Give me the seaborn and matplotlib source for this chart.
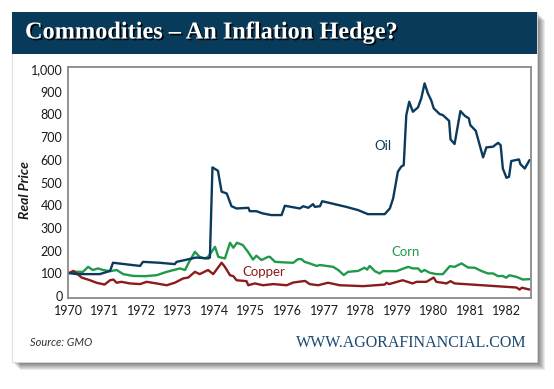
import numpy as np
import pandas as pd
import matplotlib
matplotlib.use('Agg')
import matplotlib.pyplot as plt
import matplotlib.patheffects as pe
from matplotlib.patches import Rectangle
import seaborn as sns

# values (year, real price index)
oil_years = [1970.0, 1970.24, 1970.87, 1971.15, 1971.23, 1971.6, 1971.97, 1972.05, 1972.5, 1972.92,
             1972.97, 1973.2, 1973.5, 1973.83, 1973.88, 1973.95, 1974.1, 1974.2, 1974.34, 1974.47,
             1974.61, 1974.93, 1974.97, 1975.15, 1975.33, 1975.56, 1975.84, 1975.93, 1976.34, 1976.43,
             1976.57, 1976.7, 1976.75, 1976.89, 1976.95, 1977.61, 1977.93, 1978.2, 1978.66, 1978.8,
             1978.89, 1979.02, 1979.11, 1979.18, 1979.25, 1979.33, 1979.43, 1979.57, 1979.66, 1979.75,
             1979.84, 1979.93, 1980.0, 1980.16, 1980.25, 1980.42, 1980.46, 1980.57, 1980.73, 1980.85,
             1980.96, 1981.0, 1981.15, 1981.35, 1981.44, 1981.62, 1981.76, 1981.83, 1981.89, 1981.99,
             1982.06, 1982.12, 1982.33, 1982.37, 1982.49, 1982.62]
oil_vals = [102, 97, 97, 111, 147, 140, 133, 151, 147, 141,
            151, 159, 170, 166, 170, 567, 552, 460, 452, 396,
            386, 389, 374, 374, 364, 357, 357, 398, 386, 396,
            389, 405, 393, 396, 418, 393, 379, 361, 361, 386,
            430, 548, 570, 577, 797, 856, 812, 831, 871, 937,
            893, 863, 827, 802, 797, 772, 690, 670, 815, 794,
            783, 753, 728, 611, 655, 658, 675, 665, 562, 521,
            526, 595, 602, 581, 562, 599]

corn_years = [1970.0, 1970.18, 1970.41, 1970.55, 1970.68, 1970.82, 1970.96, 1971.15, 1971.33, 1971.51,
              1971.78, 1972.1, 1972.42, 1972.7, 1973.06, 1973.2, 1973.29, 1973.47, 1973.6, 1973.74,
              1973.83, 1974.02, 1974.11, 1974.29, 1974.43, 1974.52, 1974.62, 1974.78, 1974.92, 1975.06,
              1975.15, 1975.29, 1975.47, 1975.52, 1975.66, 1975.98, 1976.16, 1976.29, 1976.38, 1976.47,
              1976.61, 1976.8, 1976.89, 1977.25, 1977.39, 1977.54, 1977.66, 1977.93, 1978.11, 1978.18,
              1978.25, 1978.39, 1978.52, 1978.61, 1978.98, 1979.3, 1979.43, 1979.57, 1979.66, 1979.75,
              1979.89, 1980.07, 1980.25, 1980.44, 1980.57, 1980.76, 1980.94, 1981.12, 1981.3, 1981.48,
              1981.62, 1981.76, 1981.89, 1981.98, 1982.07, 1982.26, 1982.44, 1982.62]
corn_vals = [100, 107, 107, 129, 115, 122, 115, 110, 115, 97,
             89, 88, 92, 107, 122, 115, 144, 195, 173, 166,
             173, 217, 173, 166, 235, 213, 235, 225, 195, 161,
             178, 159, 173, 173, 151, 148, 147, 163, 163, 151,
             144, 133, 137, 129, 115, 93, 107, 111, 125, 117,
             133, 110, 100, 110, 110, 129, 122, 122, 107, 115,
             103, 97, 97, 132, 129, 144, 126, 125, 111, 100,
             100, 88, 89, 81, 92, 85, 73, 75]

copper_years = [1970.0, 1970.15, 1970.24, 1970.37, 1970.6, 1970.78, 1971.0, 1971.15, 1971.24, 1971.33,
                1971.46, 1971.69, 1971.97, 1972.15, 1972.42, 1972.7, 1972.92, 1973.15, 1973.29, 1973.47,
                1973.6, 1973.83, 1973.97, 1974.2, 1974.29, 1974.43, 1974.52, 1974.61, 1974.88, 1974.93,
                1975.11, 1975.33, 1975.61, 1975.98, 1976.16, 1976.48, 1976.61, 1976.84, 1977.11, 1977.43,
                1978.07, 1978.66, 1978.71, 1978.78, 1979.15, 1979.42, 1979.53, 1979.8, 1980.0, 1980.07,
                1980.35, 1980.46, 1980.57, 1982.26, 1982.35, 1982.41, 1982.62]
copper_vals = [100, 111, 100, 82, 70, 59, 51, 70, 73, 59,
               63, 56, 53, 63, 56, 48, 59, 78, 82, 107,
               97, 115, 97, 147, 129, 92, 88, 70, 66, 48,
               56, 48, 53, 48, 60, 67, 53, 48, 59, 48,
               44, 51, 59, 53, 70, 56, 63, 63, 82, 63,
               56, 66, 56, 38, 29, 37, 29]

year_ticks = list(range(1970, 1983))
price_ticks = [0, 100, 200, 300, 400, 500, 600, 700, 800, 900, 1000]

oil_c = '#0b3a5c'
corn_c = '#1f9a4b'
copper_c = '#8a1c1c'
navy = '#083a5a'

sns.set_style('white')
plt.rcParams['font.family'] = ['Lato', 'DejaVu Sans']

fig = plt.figure(figsize=(5.54, 3.89), dpi=100)
fig.patch.set_facecolor('white')

# card shadow + card + banner
for k in range(1, 9):
    fig.patches.append(Rectangle(((12 + k) / 554, 1 - (362 + k) / 389), 525 / 554, 350 / 389,
                                 transform=fig.transFigure, facecolor='black', alpha=0.08,
                                 edgecolor='none', zorder=0))
fig.patches.append(Rectangle((12 / 554, 1 - 362 / 389), 525 / 554, 350 / 389,
                             transform=fig.transFigure, facecolor='white',
                             edgecolor='#d8d8d8', lw=0.6, zorder=1))
fig.patches.append(Rectangle((12 / 554, 1 - 54 / 389), 525 / 554, 42 / 389,
                             transform=fig.transFigure, facecolor=navy, edgecolor='none', zorder=2))

fig.text(25 / 554, 1 - 33 / 389, 'Commodities – An Inflation Hedge?', color='white',
         family='Liberation Serif', fontweight='bold', fontsize=17.5, va='center', ha='left',
         path_effects=[pe.SimplePatchShadow(offset=(1.2, -1.2), shadow_rgbFace='black', alpha=0.9),
                       pe.Normal()])

ax = fig.add_axes([68 / 554, 1 - 297.5 / 389, 463 / 554, 230.5 / 389])
ax.set_zorder(3)

sns.lineplot(x=corn_years, y=corn_vals, ax=ax, color=corn_c, lw=1.7, sort=False, estimator=None)
sns.lineplot(x=copper_years, y=copper_vals, ax=ax, color=copper_c, lw=1.7, sort=False, estimator=None)
sns.lineplot(x=oil_years, y=oil_vals, ax=ax, color=oil_c, lw=1.7, sort=False, estimator=None)

ax.set_xlim(1970, 1982.66)
ax.set_ylim(-6, 1009)
ax.set_xticks(year_ticks)
ax.set_yticks(price_ticks)
ax.set_yticklabels([f'{v:,}' for v in price_ticks])
ax.tick_params(axis='both', length=0, labelsize=9, colors='#1a1a1a')
ax.tick_params(axis='x', pad=5.5)
ax.tick_params(axis='y', pad=4)
for s in ax.spines.values():
    s.set_color('#8a8a8a')
    s.set_linewidth(1.3)
ax.set_xlabel('')
ax.set_ylabel('')

ax.text(1978.6, 662, 'Oil', color=oil_c, fontsize=9.5, ha='center', va='center')
ax.text(1979.23, 194, 'Corn', color=corn_c, fontsize=9.5, ha='center', va='center')
ax.text(1975.36, 106, 'Copper', color=copper_c, fontsize=9.5, ha='center', va='center')

fig.text(25 / 554, 1 - 190 / 389, 'Real Price', rotation=90, style='italic', fontweight='bold',
         fontsize=10, color='#1a1a1a', ha='center', va='center')
fig.text(30 / 554, 1 - 343 / 389, 'Source: GMO', style='italic', fontsize=8, color='#333333',
         ha='left', va='center')
fig.text(527 / 554, 1 - 343 / 389, 'WWW.AGORAFINANCIAL.COM', family='Liberation Serif',
         fontsize=11.5, color='#1d4a70', ha='right', va='center')

plt.savefig('out.png', dpi=100)
plt.close()
